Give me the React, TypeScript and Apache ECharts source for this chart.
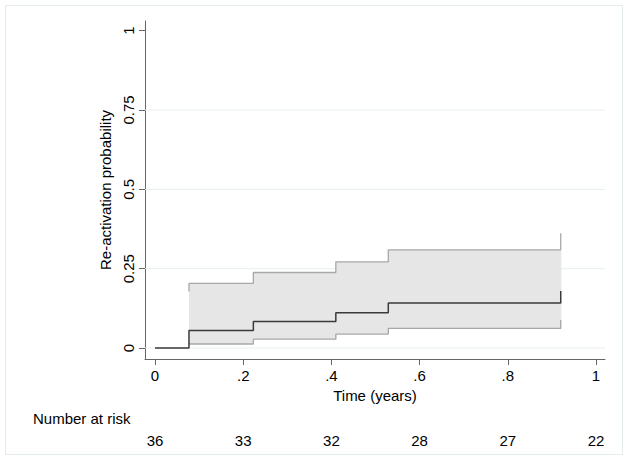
import React, { useEffect, useRef } from 'react';
import * as echarts from 'echarts';

// Axis ticks and labels
const xTicks = [0, 0.2, 0.4, 0.6, 0.8, 1];
const xTickLabels = ['0', '.2', '.4', '.6', '.8', '1'];
const yTicks = [0, 0.25, 0.5, 0.75, 1];
const yTickLabels = ['0', '0.25', '0.5', '0.75', '1'];
const gridValues = [0, 0.25, 0.5, 0.75];

// Kaplan-Meier failure estimate
const times = [0, 0.077, 0.223, 0.41, 0.529, 0.92];
const estimate = [0, 0.0556, 0.0833, 0.1111, 0.1417, 0.18];

// Confidence band
const ciTimes = [0.077, 0.223, 0.41, 0.529, 0.92];
const lowerCI = [0.0126, 0.028, 0.044, 0.0617, 0.088];
const upperCI = [0.2034, 0.238, 0.2717, 0.3095, 0.362];
const upperCIStart = 0.178;

// Number at risk table
const riskTimes = [0, 0.2, 0.4, 0.6, 0.8, 1];
const riskCounts = [36, 33, 32, 28, 27, 22];

const X_MIN = -0.0227;
const X_MAX = 1.0204;
const Y_MIN = -0.0346;
const Y_MAX = 1.0305;

const FONT = "'Liberation Sans', Arial, Helvetica, sans-serif";

function labelFor(values: number[], labels: (string | number)[], v: number): string {
  for (let i = 0; i < values.length; i++) {
    if (Math.abs(values[i] - v) < 1e-6) return String(labels[i]);
  }
  return '';
}

export default function App() {
  const ref = useRef<HTMLDivElement>(null);

  useEffect(() => {
    if (!ref.current) return;
    const chart = echarts.init(ref.current, null, { renderer: 'svg' });

    const axisColor = '#666666';

    const gridSeries = gridValues.map((v) => ({
      type: 'line',
      data: [
        [X_MIN, v],
        [X_MAX, v],
      ],
      symbol: 'none',
      silent: true,
      lineStyle: { color: '#e6eeee', width: 1 },
      z: 1,
    }));

    const bandData = ciTimes.slice(0, -1).map((t, i) => [t, ciTimes[i + 1], lowerCI[i], upperCI[i]]);

    const option: any = {
      animation: false,
      backgroundColor: '#ffffff',
      textStyle: { fontFamily: FONT },
      graphic: [
        {
          type: 'rect',
          shape: { x: 5.5, y: 5.5, width: 617, height: 449 },
          style: { fill: 'none', stroke: '#e4ebeb', lineWidth: 1 },
          silent: true,
        },
        {
          type: 'text',
          x: 33,
          y: 418,
          style: {
            text: 'Number at risk',
            font: `15px ${FONT}`,
            fill: '#000',
            verticalAlign: 'middle',
            align: 'left',
          },
        },
      ],
      grid: {
        left: 145,
        right: 24,
        top: 21,
        bottom: 102,
        containLabel: false,
        outerBoundsMode: 'none',
      },
      xAxis: [
        {
          type: 'value',
          min: X_MIN,
          max: X_MAX,
          position: 'bottom',
          name: 'Time (years)',
          nameLocation: 'middle',
          nameGap: 28,
          nameTextStyle: { fontSize: 15, color: '#000', fontFamily: FONT },
          axisLine: { show: true, onZero: false, lineStyle: { color: axisColor, width: 1 } },
          axisTick: { show: true, length: 6, customValues: xTicks, lineStyle: { color: axisColor } },
          axisLabel: {
            show: true,
            customValues: xTicks,
            margin: 9,
            fontSize: 15,
            color: '#000',
            fontFamily: FONT,
            formatter: (v: number) => labelFor(xTicks, xTickLabels, v),
          },
          splitLine: { show: false },
        },
        {
          type: 'value',
          min: X_MIN,
          max: X_MAX,
          position: 'bottom',
          offset: 74,
          axisLine: { show: false },
          axisTick: { show: false },
          axisLabel: {
            show: true,
            customValues: riskTimes,
            margin: 0,
            fontSize: 15,
            color: '#000',
            fontFamily: FONT,
            formatter: (v: number) => labelFor(riskTimes, riskCounts, v),
          },
          splitLine: { show: false },
        },
      ],
      yAxis: {
        type: 'value',
        min: Y_MIN,
        max: Y_MAX,
        name: 'Re-activation probability',
        nameLocation: 'middle',
        nameGap: 29,
        nameTextStyle: { fontSize: 15, color: '#000', fontFamily: FONT },
        axisLine: { show: true, onZero: false, lineStyle: { color: axisColor, width: 1 } },
        axisTick: { show: true, length: 6, customValues: yTicks, lineStyle: { color: axisColor } },
        axisLabel: {
          show: true,
          customValues: yTicks,
          rotate: 90,
          margin: 9,
          fontSize: 15,
          color: '#000',
          fontFamily: FONT,
          formatter: (v: number) => labelFor(yTicks, yTickLabels, v),
        },
        splitLine: { show: false },
      },
      series: [
        ...gridSeries,
        {
          type: 'custom',
          name: 'ciBand',
          data: bandData,
          encode: { x: [0, 1], y: [2, 3] },
          silent: true,
          z: 2,
          renderItem: (params: any, api: any) => {
            const p1 = api.coord([api.value(0), api.value(3)]);
            const p2 = api.coord([api.value(1), api.value(2)]);
            return {
              type: 'rect',
              shape: {
                x: p1[0],
                y: p1[1],
                width: p2[0] - p1[0] + 0.6,
                height: p2[1] - p1[1],
              },
              style: { fill: '#e6e6e6' },
            };
          },
        },
        {
          type: 'line',
          name: 'upper',
          data: [[ciTimes[0], upperCIStart], ...ciTimes.map((t, i) => [t, upperCI[i]])],
          step: 'end',
          symbol: 'none',
          silent: true,
          lineStyle: { color: '#a8a8a8', width: 1.3 },
          z: 3,
        },
        {
          type: 'line',
          name: 'lower',
          data: ciTimes.map((t, i) => [t, lowerCI[i]]),
          step: 'end',
          symbol: 'none',
          silent: true,
          lineStyle: { color: '#a8a8a8', width: 1.3 },
          z: 3,
        },
        {
          type: 'line',
          name: 'estimate',
          data: times.map((t, i) => [t, estimate[i]]),
          step: 'end',
          symbol: 'none',
          silent: true,
          lineStyle: { color: '#3a3a3a', width: 1.5 },
          z: 4,
        },
      ],
    };

    chart.setOption(option);
    return () => {
      chart.dispose();
    };
  }, []);

  return (
    <div
      ref={ref}
      style={{ position: 'fixed', left: 0, top: 0, width: 629, height: 461, background: '#fff' }}
    />
  );
}
